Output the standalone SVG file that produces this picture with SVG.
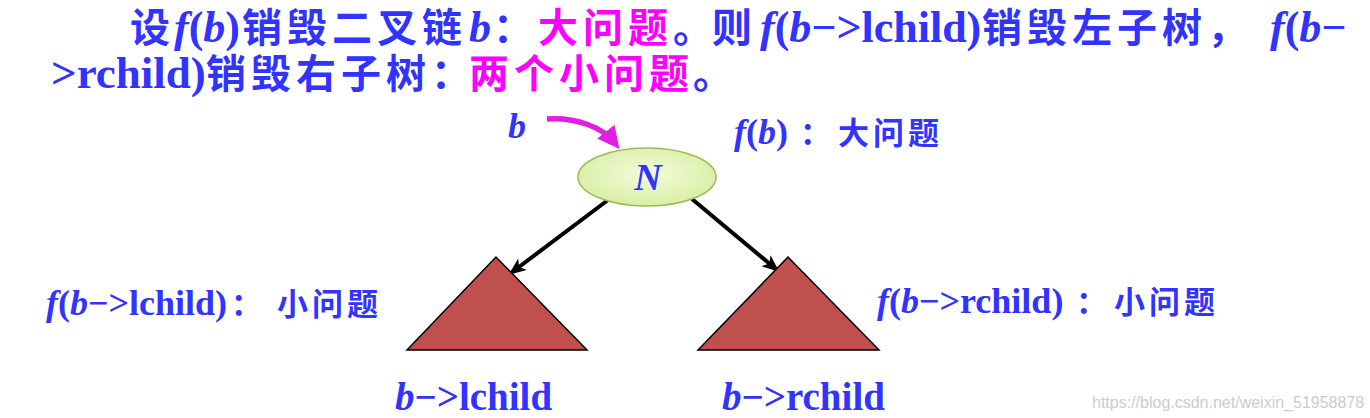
<svg xmlns="http://www.w3.org/2000/svg" width="1370" height="418" viewBox="0 0 1370 418">
<style>
text{font-family:"Liberation Serif","Noto Sans CJK SC",serif;font-weight:bold;fill:#3333FF}
.i{font-style:italic}
.m{fill:#FF00FF}
.cj{font-family:"Noto Sans CJK SC",sans-serif;font-weight:bold}
.h{font-size:40px;letter-spacing:5px}
.s{font-size:31px;letter-spacing:4px}
.tri{fill:#C0504D;stroke:#000;stroke-width:1.5}
.con{stroke:#000;stroke-width:4;fill:none;marker-end:url(#ah)}
</style>
<defs>
<marker id="ah" viewBox="0 0 12 10" refX="10" refY="5" markerWidth="5" markerHeight="3.6" orient="auto"><path d="M0,0 L12,5 L0,10 L3,5 Z" fill="#000"/></marker>
<marker id="ahm" viewBox="0 0 10 10" refX="6" refY="5" markerWidth="4" markerHeight="4" orient="auto"><path d="M0,0 L10,5 L0,10 Z" fill="#E020E0"/></marker>
<radialGradient id="g" cx="0.5" cy="0.45" r="0.6"><stop offset="0" stop-color="#F4FBDD"/><stop offset="1" stop-color="#D6EE9E"/></radialGradient>
</defs>
<g id="heading">
<text y="42" font-size="44"><tspan class="cj h" x="130">设</tspan><tspan class="i" x="174">f</tspan>(<tspan class="i">b</tspan>)<tspan class="cj h" x="242">销毁二叉链</tspan><tspan class="i" x="469">b</tspan><tspan class="cj h" x="493">：</tspan><tspan class="cj h m" x="538">大问题</tspan><tspan class="cj h" x="673">。</tspan><tspan class="cj h" x="712">则</tspan><tspan class="i" x="760">f</tspan>(<tspan class="i">b</tspan>−&gt;lchild)<tspan class="cj h" x="982">销毁左子树，</tspan><tspan class="i" x="1270">f</tspan>(<tspan class="i">b</tspan>−</text>
<text y="88" font-size="45"><tspan x="51">&gt;rchild)</tspan><tspan class="cj h" x="206">销毁右子树：</tspan><tspan class="cj h m" x="469">两个小问题</tspan><tspan class="cj h" x="693">。</tspan></text>
</g>
<g id="connectors">
<path d="M547,119 C577,117 603,128 614,142" stroke="#E020E0" stroke-width="5.5" fill="none" marker-end="url(#ahm)"/>
<line class="con" x1="608" y1="200" x2="511" y2="273"/>
<line class="con" x1="692" y1="199" x2="777" y2="270"/>
</g>
<g id="label-b"><text class="i" x="508" y="138" font-size="36">b</text></g>
<g id="node-N">
<ellipse cx="647" cy="177" rx="69" ry="29" fill="url(#g)" stroke="#9BBB59" stroke-width="1.5"/>
<text class="i" x="648" y="190" font-size="38" text-anchor="middle">N</text>
</g>
<g id="label-fb"><text y="144" font-size="36"><tspan class="i" x="734">f</tspan>(<tspan class="i">b</tspan>)<tspan class="cj s" x="800">：</tspan><tspan class="cj s" x="838">大问题</tspan></text></g>
<g id="left-subtree">
<polygon class="tri" points="496,257 407,350 587,350"/>
<text x="395" y="410" font-size="39"><tspan class="i">b</tspan>−&gt;lchild</text>
</g>
<g id="right-subtree">
<polygon class="tri" points="788,257 698,350 879,350"/>
<text x="722" y="410" font-size="39"><tspan class="i">b</tspan>−&gt;rchild</text>
</g>
<g id="label-left"><text y="315" font-size="36"><tspan class="i" x="46">f</tspan>(<tspan class="i">b</tspan>−&gt;lchild)<tspan class="cj s" x="231">：</tspan><tspan class="cj s" x="277">小问题</tspan></text></g>
<g id="label-right"><text y="313" font-size="36"><tspan class="i" x="877">f</tspan>(<tspan class="i">b</tspan>−&gt;rchild)<tspan class="cj s" x="1076">：</tspan><tspan class="cj s" x="1114">小问题</tspan></text></g>
<text x="1092" y="408" font-size="16" style="font-family:'Liberation Sans',sans-serif;font-weight:normal;fill:#CCCCCC">https://blog.csdn.net/weixin_51958878</text>
</svg>
